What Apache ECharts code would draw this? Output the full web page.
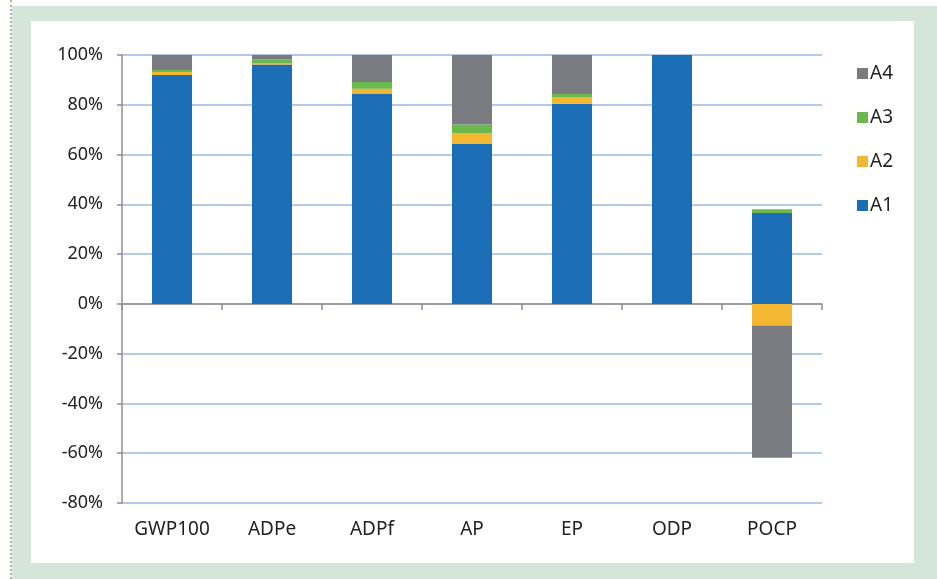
<!DOCTYPE html>
<html>
<head>
<meta charset="utf-8">
<script src="https://cdn.jsdelivr.net/npm/echarts@6/dist/echarts.min.js"></script>
<style>
  html, body { margin: 0; padding: 0; background: #ffffff; }
  #wrap { position: relative; width: 937px; height: 579px; overflow: hidden; }
  #green { position: absolute; left: 12px; top: 6px; width: 925px; height: 573px; background: #d4e5d9; }
  #white { position: absolute; left: 31px; top: 21px; width: 883px; height: 542px; background: #ffffff; }
  #dots { position: absolute; left: 10px; top: 0; width: 0; height: 579px; border-left: 2px dotted #b0b0b0; }
  #chart { position: absolute; left: 0; top: 0; width: 937px; height: 579px; }
</style>
</head>
<body>
<div id="wrap">
  <div id="green"></div>
  <div id="white"></div>
  <div id="dots"></div>
  <div id="chart"></div>
</div>
<script>
const categories = ['GWP100', 'ADPe', 'ADPf', 'AP', 'EP', 'ODP', 'POCP'];
const A1 = [92.0, 96.2, 84.5, 64.2, 80.4, 100, 36.5];
const A2 = [1.2, 0.4, 1.9, 4.4, 2.7, 0, -8.7];
const A3 = [0.8, 1.6, 2.8, 3.5, 1.2, 0, 1.5];
const A4 = [6.0, 1.8, 10.8, 27.9, 15.7, 0, -53.1];
const yTicks = { min: -80, max: 100, interval: 20 };

const FONT = '"Noto Sans", sans-serif';
const chart = echarts.init(document.getElementById('chart'), null, { renderer: 'canvas' });

function bar(name, data, color) {
  return {
    name: name, type: 'bar', stack: 'total', data: data,
    xAxisIndex: 0, barWidth: 40,
    itemStyle: { color: color },
    emphasis: { disabled: true }
  };
}

chart.setOption({
  animation: false,
  backgroundColor: 'transparent',
  textStyle: { fontFamily: FONT },
  grid: { left: 122, right: 115, top: 55, bottom: 76, containLabel: false },
  legend: {
    data: ['A4', 'A3', 'A2', 'A1'],
    orient: 'vertical',
    left: 852, top: 59,
    itemWidth: 11, itemHeight: 11, itemGap: 25,
    icon: 'rect',
    selectedMode: false,
    textStyle: { fontFamily: FONT, fontSize: 19, color: '#222222', padding: [0, 0, 0, -3] }
  },
  xAxis: [
    {
      type: 'category', data: categories, position: 'bottom',
      axisLine: { onZero: true, lineStyle: { color: '#8e8e8e', width: 1.5 } },
      axisTick: { show: true, length: 6, lineStyle: { color: '#8e8e8e', width: 1.5 } },
      axisLabel: { show: false },
      splitLine: { show: false }
    },
    {
      type: 'category', data: categories, position: 'bottom',
      axisLine: { show: false, onZero: false },
      axisTick: { show: false },
      axisLabel: { show: true, margin: 17, fontFamily: FONT, fontSize: 19, color: '#222222' },
      splitLine: { show: false }
    }
  ],
  yAxis: {
    type: 'value', min: yTicks.min, max: yTicks.max, interval: yTicks.interval,
    axisLine: { show: true, lineStyle: { color: '#8e8e8e', width: 1.5 } },
    axisTick: { show: true, length: 5, lineStyle: { color: '#8e8e8e', width: 1.5 } },
    axisLabel: { formatter: '{value}%', margin: 19, fontFamily: FONT, fontSize: 18, color: '#222222' },
    splitLine: { show: true, lineStyle: { color: '#b6c9e6', width: 2 } }
  },
  series: [
    bar('A1', A1, '#1b6db6'),
    bar('A2', A2, '#f4b731'),
    bar('A3', A3, '#6bb84d'),
    bar('A4', A4, '#7a7b80')
  ]
});
</script>
</body>
</html>
